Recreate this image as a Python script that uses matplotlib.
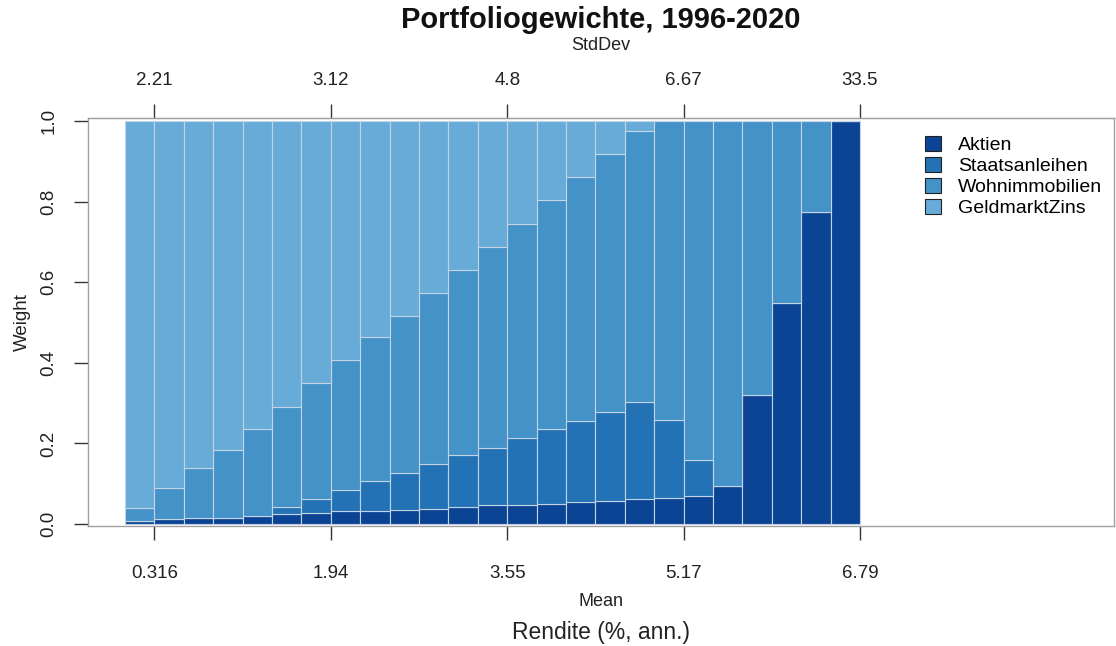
import numpy as np
import matplotlib
matplotlib.use('Agg')
import matplotlib.pyplot as plt
from matplotlib.patches import Patch

# --- Daten ---
assets = ['Aktien', 'Staatsanleihen', 'Wohnimmobilien', 'GeldmarktZins']

aktien = [0.008, 0.012, 0.015, 0.015, 0.019, 0.024, 0.028, 0.031, 0.032, 0.035,
          0.038, 0.043, 0.047, 0.048, 0.050, 0.054, 0.057, 0.061, 0.065, 0.069,
          0.094, 0.320, 0.549, 0.773, 1.000]
staatsanleihen = [0.0, 0.0, 0.0, 0.0, 0.0, 0.018, 0.033, 0.053, 0.075, 0.091,
                  0.111, 0.128, 0.142, 0.166, 0.186, 0.202, 0.222, 0.241, 0.194, 0.091,
                  0.0, 0.0, 0.0, 0.0, 0.0]
wohnimmobilien = [0.031, 0.077, 0.125, 0.169, 0.216, 0.249, 0.288, 0.322, 0.356, 0.390,
                  0.425, 0.459, 0.499, 0.530, 0.568, 0.605, 0.638, 0.674, 0.741, 0.840,
                  0.906, 0.680, 0.451, 0.227, 0.0]
geldmarkt = [0.961, 0.911, 0.860, 0.816, 0.765, 0.709, 0.651, 0.594, 0.537, 0.484,
             0.426, 0.370, 0.312, 0.256, 0.196, 0.139, 0.083, 0.024, 0.0, 0.0,
             0.0, 0.0, 0.0, 0.0, 0.0]

# Achsenbeschriftungen (jede 6. Portfolio-Grenze)
tick_index = [1, 7, 13, 19, 25]
mean_labels = ['0.316', '1.94', '3.55', '5.17', '6.79']
sd_labels = ['2.21', '3.12', '4.8', '6.67', '33.5']

colors = ['#0b4494', '#2372b6', '#4392c8', '#67acd8']
edge_col = '#c3d3e3'

W, H = 1116, 646
plt.rcParams['font.family'] = ['Liberation Sans', 'DejaVu Sans']

fig = plt.figure(figsize=(W / 100, H / 100), dpi=100)
ax = fig.add_axes([88 / W, 1 - 526 / H, 1026 / W, 408 / H])

x = np.arange(len(aktien))
bottom = np.zeros(len(aktien))
for name, vals, col in zip(assets, [aktien, staatsanleihen, wohnimmobilien, geldmarkt], colors):
    vals = np.array(vals)
    ax.bar(x, vals, width=1.0, bottom=bottom, align='edge', color=col,
           edgecolor=edge_col, linewidth=0.8)
    bottom += vals

ax.set_xlim(-1.26, 33.64)
ax.set_ylim(-0.005, 1.0075)

for sp in ax.spines.values():
    sp.set_color('#a0a0a0')
    sp.set_linewidth(1.0)

ax.set_xticks(tick_index)
ax.set_xticklabels(mean_labels)
ax.set_yticks(np.arange(0, 1.01, 0.2))
ax.set_yticklabels([f'{v:.1f}' for v in np.arange(0, 1.01, 0.2)])
ax.tick_params(axis='x', length=10, width=1, color='#333333', pad=18,
               labelsize=13.5, labelcolor='#222222')
ax.tick_params(axis='y', length=10, width=1, color='#333333', pad=12,
               labelsize=13.5, labelcolor='#222222')
for lab in ax.get_yticklabels():
    lab.set_rotation(90)
    lab.set_va('center')

secax = ax.secondary_xaxis('top')
secax.set_xticks(tick_index)
secax.set_xticklabels(sd_labels)
secax.tick_params(axis='x', length=10, width=1, color='#333333', pad=11,
                  labelsize=13.5, labelcolor='#222222')
secax.spines['top'].set_color('#a0a0a0')

ax.set_xlabel('Mean', fontsize=13, color='#222222')
ax.xaxis.set_label_coords(0.5, (526 - 602) / 408)
ax.xaxis.label.set_va('center')

ax.set_ylabel('Weight', fontsize=13.5, color='#222222')
ax.yaxis.set_label_coords((22 - 88) / 1026, 0.5)
ax.yaxis.label.set_va('center')

fig.text(601 / W, 1 - 46 / H, 'StdDev', fontsize=13, ha='center', va='center',
         color='#222222')
fig.text(601 / W, 1 - 632 / H, 'Rendite (%, ann.)', fontsize=16.5,
         ha='center', va='center', color='#222222')
fig.text(601 / W, 1 - 20 / H, 'Portfoliogewichte, 1996-2020', fontsize=21,
         fontweight='bold', ha='center', va='center', color='#111111')

handles = [Patch(facecolor=c, edgecolor='#222222', linewidth=0.8) for c in colors]
fig.legend(handles, assets, loc='upper left', bbox_to_anchor=(925 / W, 1 - 136 / H),
           frameon=False, fontsize=14, handlelength=0.8, handleheight=0.8,
           handletextpad=0.9, labelspacing=0.14, borderpad=0, borderaxespad=0)

fig.savefig('out.png', dpi=100)
